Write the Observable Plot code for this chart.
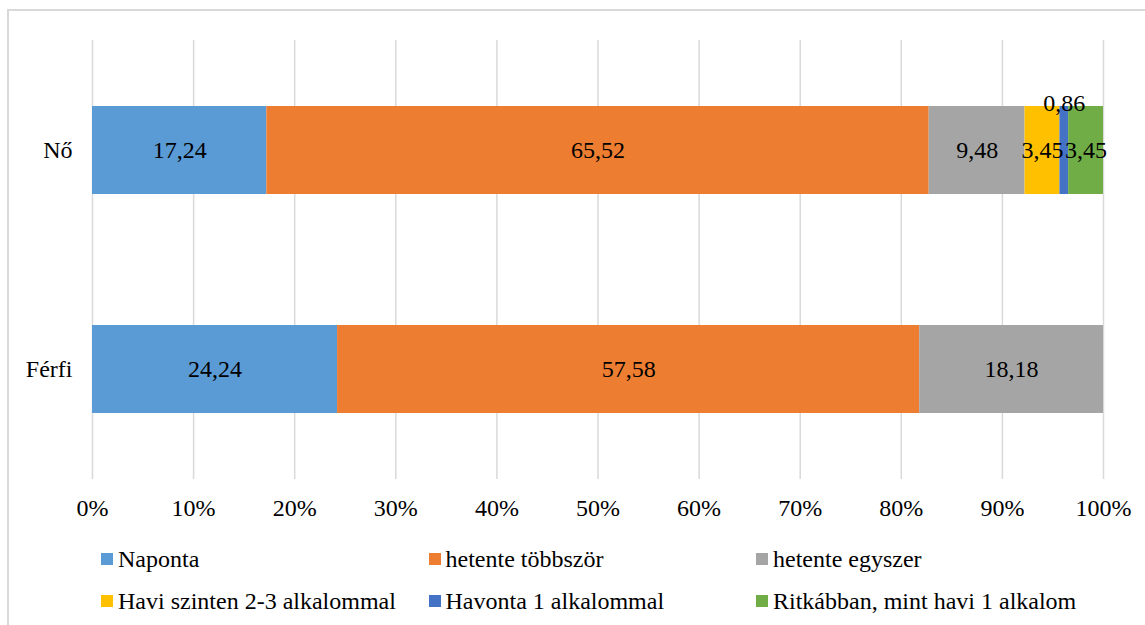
<!DOCTYPE html>
<html>
<head>
<meta charset="utf-8">
<script src="https://cdn.jsdelivr.net/npm/d3@7"></script>
<script src="https://cdn.jsdelivr.net/npm/@observablehq/plot@0.6"></script>
<style>
  html, body { margin: 0; padding: 0; background: #fff; overflow: hidden; }
  #wrap { position: relative; width: 1145px; height: 625px; font-family: "Liberation Serif", "Times New Roman", Times, serif; color: #000; }
  #frame { position: absolute; left: 7px; top: 9px; width: 1300px; height: 800px; border: 2px solid #d9d9d9; box-sizing: border-box; }
  #chart { position: absolute; left: 0; top: 0; }
  #chart svg, #chart svg text { font-family: "Liberation Serif", "Times New Roman", Times, serif; }
  #legend { position: absolute; left: 101px; top: 538px; }
  .row { display: flex; height: 42px; align-items: center; }
  .item { display: flex; align-items: center; width: 327.5px; font-size: 24px; white-space: nowrap; }
  .sw { width: 12px; height: 12px; margin-right: 5px; flex: none; }
</style>
</head>
<body>
<div id="wrap">
  <div id="frame"></div>
  <div id="chart"></div>
  <div id="legend"></div>
</div>
<script>
// Groups (rows of the chart) and response categories
const groups = ["Nő", "Férfi"];
const categories = [
  "Naponta",
  "hetente többször",
  "hetente egyszer",
  "Havi szinten 2-3 alkalommal",
  "Havonta 1 alkalommal",
  "Ritkábban, mint havi 1 alkalom"
];
const colors = ["#5B9BD5", "#ED7D31", "#A5A5A5", "#FFC000", "#4472C4", "#70AD47"];

// Share of answers (%) per category
const noValues = [17.24, 65.52, 9.48, 3.45, 0.86, 3.45];
const ferfiValues = [24.24, 57.58, 18.18, 0, 0, 0];

// Percent axis ticks
const xTicks = [0, 10, 20, 30, 40, 50, 60, 70, 80, 90, 100];

const series = { "Nő": noValues, "Férfi": ferfiValues };
const rows = [];
for (const g of groups) {
  series[g].forEach((v, i) => {
    if (v > 0) rows.push({ group: g, cat: categories[i], value: v });
  });
}

const fmt = v => v.toFixed(2).replace(".", ",");

const chart = Plot.plot({
  width: 1145,
  height: 536,
  marginLeft: 92,
  marginRight: 42,
  marginTop: 40,
  marginBottom: 57,
  style: { fontSize: "24px", color: "#000", background: "transparent", overflow: "visible" },
  x: { domain: [0, 100], label: null },
  y: { domain: groups, paddingInner: 0.6, paddingOuter: 0.3, label: null },
  color: { domain: categories, range: colors },
  marks: [
    Plot.gridX(xTicks, { stroke: "#d9d9d9", strokeWidth: 1.5, strokeOpacity: 1 }),
    Plot.barX(rows, { x: "value", y: "group", fill: "cat", order: null }),
    Plot.text(rows, Plot.stackX({
      x: "value", y: "group", z: "cat", order: null,
      text: d => d.value >= 1 ? fmt(d.value) : null,
      fill: "#000"
    })),
    Plot.text(rows, Plot.stackX({
      x: "value", y: "group", z: "cat", order: null,
      text: d => d.value < 1 ? fmt(d.value) : null,
      dy: -47, fill: "#000"
    })),
    Plot.axisX(xTicks, { tickSize: 0, tickPadding: 19, tickFormat: d => d + "%", label: null }),
    Plot.axisY({ tickSize: 0, tickPadding: 20, label: null })
  ]
});
document.getElementById("chart").append(chart);

// Legend: two rows of three entries
const legend = d3.select("#legend");
for (let r = 0; r < 2; r++) {
  const row = legend.append("div").attr("class", "row");
  categories.slice(r * 3, r * 3 + 3).forEach((c, j) => {
    const item = row.append("div").attr("class", "item");
    item.append("span").attr("class", "sw").style("background", colors[r * 3 + j]);
    item.append("span").text(c);
  });
}
</script>
</body>
</html>
